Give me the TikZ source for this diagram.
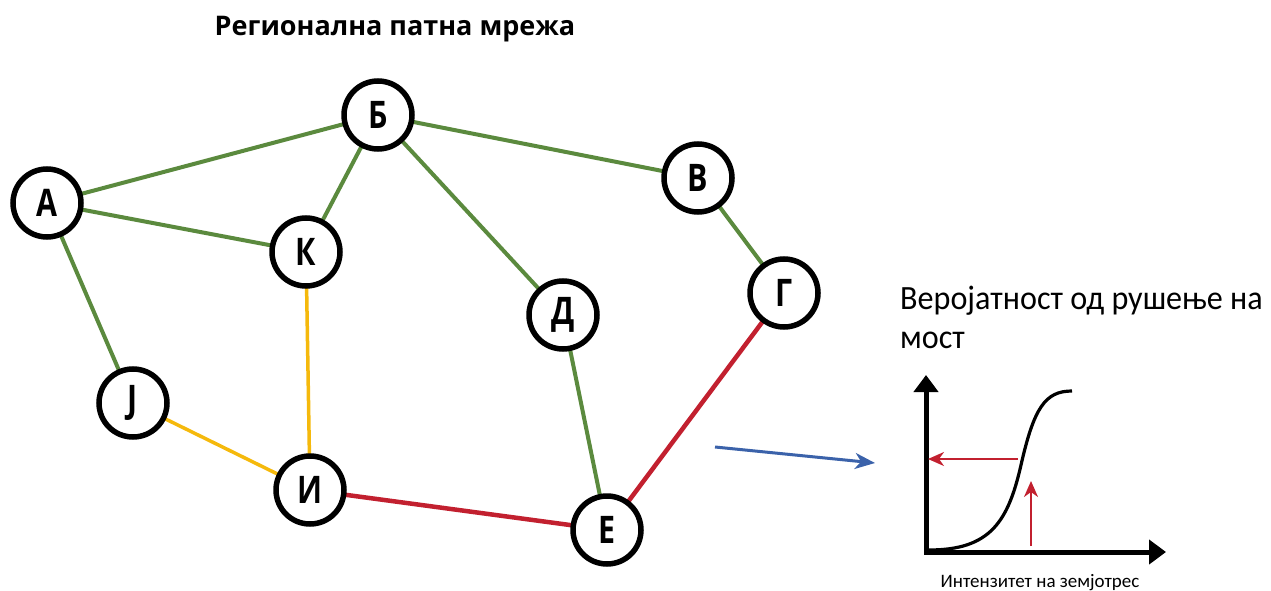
\documentclass[tikz,border=0pt]{standalone}
\usepackage{fontspec}
\setmainfont{Carlito}
\newfontfamily\headfont{Open Sans}
\usetikzlibrary{arrows.meta,backgrounds}

\definecolor{roadgreen}{HTML}{5B8A3E}
\definecolor{roadyellow}{HTML}{F5B90C}
\definecolor{roadred}{HTML}{C2202F}
\definecolor{linkblue}{HTML}{3B62AA}

% narrow bold letters inside the town circles
\newcommand\townname[1]{\scalebox{0.8}[1]{#1}}

\begin{document}
\begin{tikzpicture}[
  x=1pt, y=-1pt,
  city/.style={circle, draw=black, line width=5.5pt, fill=white,
    minimum size=68pt, inner sep=0pt, font=\headfont\fontsize{38}{38}\selectfont\bfseries},
  road/.style={line width=4pt},
  green road/.style={road, roadgreen},
  yellow road/.style={road, roadyellow, line width=3.5pt},
  red road/.style={road, roadred, line width=4.5pt},
  axis/.style={line width=5pt, -{Triangle[length=17pt,width=24pt]}},
  reading/.style={roadred, line width=2pt, -{Stealth[length=16pt,width=14pt,inset=5pt]}}
]
\useasboundingbox (0,0) rectangle (1271,591);

\node[anchor=base, font=\headfont\fontsize{27}{27}\selectfont\bfseries] (title) at (395,36)
  {Регионална патна мрежа};

% road network
\node[city] (A) at (47,203) {\townname{А}};
\node[city] (B) at (378,115) {\townname{Б}};
\node[city] (V) at (698,178) {\townname{В}};
\node[city] (G) at (784,293) {\townname{Г}};
\node[city] (D) at (563,315) {\townname{Д}};
\node[city] (K) at (306,252) {\townname{К}};
\node[city] (J) at (133,403) {\townname{Ј}};
\node[city] (I) at (310,490) {\townname{И}};
\node[city] (E) at (607,530) {\townname{Е}};

\begin{scope}[on background layer]
\draw[green road] (A.center) -- (B.center);
\draw[green road] (A.center) -- (K.center);
\draw[green road] (A.center) -- (J.center);
\draw[green road] (B.center) -- (K.center);
\draw[green road] (B.center) -- (V.center);
\draw[green road] (B.center) -- (D.center);
\draw[green road] (V.center) -- (G.center);
\draw[green road] (D.center) -- (E.center);
\draw[yellow road] (K.center) -- (I.center);
\draw[yellow road] (J.center) -- (I.center);
\draw[red road] (I.center) -- (E.center);
\draw[red road] (E.center) -- (G.center);
\end{scope}

% fragility curve of a bridge
\coordinate (bridge) at (715,447);
\coordinate (plot) at (875,463);
\draw[linkblue, line width=3pt, -{Stealth[length=20pt,width=16pt,inset=6pt]}] (bridge) -- (plot);

\node[anchor=base west, align=left, inner sep=0pt, font=\fontsize{34}{39}\selectfont] (curvetitle) at (900,348)
  {\scalebox{0.945}[1]{Веројатност од рушење на}\\\scalebox{0.945}[1]{мост}};

\coordinate (origin) at (926,552);
\coordinate (ytop) at (926,375);
\coordinate (xend) at (1166,552);
\draw[axis] ([yshift=-2pt]origin) -- (ytop);
\draw[axis] ([xshift=-2pt]origin) -- (xend);

\draw[line width=3.2pt] (929,550) .. controls (990,550) and (1008,522) .. (1021,465)
  .. controls (1034,408) and (1045,391) .. (1072,391);

\coordinate (hit) at (1031,546);
\coordinate (onx) at (1031,481);
\coordinate (fromcurve) at (1018,459);
\coordinate (ony) at (928,459);
\draw[reading] (fromcurve) -- (ony);
\draw[reading] (hit) -- (onx);

\node[anchor=base, font=\fontsize{19}{19}\selectfont] (xlabel) at (1040,587) {Интензитет на земјотрес};
\end{tikzpicture}
\end{document}
